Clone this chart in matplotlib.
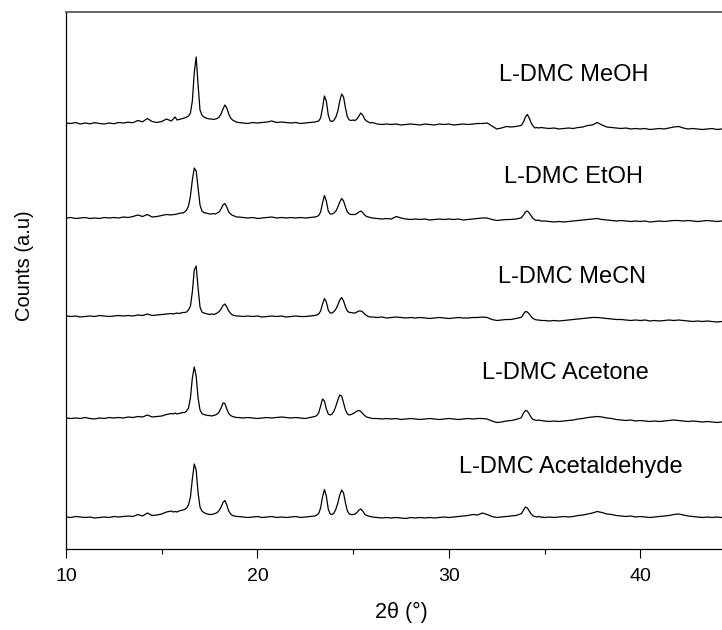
import numpy as np
import matplotlib
matplotlib.use('Agg')
import matplotlib.pyplot as plt

plt.rcParams['font.family'] = ['Liberation Sans', 'DejaVu Sans']

# 2-theta sampling (deg): coarse on the baseline, 0.1 steps across the peaks
two_theta = [
    10.0, 10.25, 10.5, 10.75, 11.0, 11.25, 11.5, 11.75, 12.0, 12.25, 12.5, 12.75,
    13.0, 13.25, 13.5, 13.75, 14.0, 14.25, 14.5, 14.75, 15.0, 15.25, 15.5,
    15.6, 15.7, 15.8, 15.9, 16.0, 16.1, 16.2, 16.3, 16.4, 16.5, 16.6, 16.7, 16.8,
    16.9, 17.0, 17.1, 17.2, 17.3, 17.4, 17.5, 17.6, 17.7, 17.8, 17.9, 18.0, 18.1,
    18.2, 18.3, 18.4, 18.5, 18.6, 18.7, 18.8, 18.9, 19.0,
    19.25, 19.5, 19.75, 20.0, 20.25, 20.5, 20.75, 21.0, 21.25, 21.5, 21.75, 22.0,
    22.25, 22.5, 22.75, 23.0,
    23.1, 23.2, 23.3, 23.4, 23.5, 23.6, 23.7, 23.8, 23.9, 24.0, 24.1, 24.2, 24.3,
    24.4, 24.5, 24.6, 24.7, 24.8, 24.9, 25.0, 25.1, 25.2, 25.3, 25.4, 25.5, 25.6,
    25.7, 25.8, 25.9, 26.0,
    26.25, 26.5, 26.75, 27.0, 27.25, 27.5, 27.75, 28.0, 28.25, 28.5, 28.75, 29.0,
    29.25, 29.5, 29.75, 30.0, 30.25, 30.5, 30.75, 31.0, 31.25, 31.5, 31.75, 32.0,
    32.25, 32.5, 32.75, 33.0, 33.25, 33.5, 33.75,
    33.8, 33.9, 34.0, 34.1, 34.2, 34.3, 34.4, 34.5, 34.6, 34.7, 34.8,
    35.0, 35.25, 35.5, 35.75, 36.0, 36.25, 36.5, 36.75, 37.0, 37.25, 37.5, 37.75,
    38.0, 38.25, 38.5, 38.75, 39.0, 39.25, 39.5, 39.75, 40.0, 40.25, 40.5, 40.75,
    41.0, 41.25, 41.5, 41.75, 42.0, 42.25, 42.5, 42.75, 43.0, 43.25, 43.5, 43.75,
    44.0, 44.25, 44.5, 44.75, 45.0,
]

# intensities (a.u.), relative to each pattern's left baseline
meoh = [
    0, -0.5, 0.5, -1, 0, -0.8, 0.3, -0.5, -1, 0, -0.7, 0.5,
    0, 0.8, 0.3, 2.5, 1.2, 4.5, 1.5, 0.5, 1.5, 4, 2,
    4, 6, 3, 3.5, 4, 4.5, 5, 6, 7, 10, 22, 50, 66,
    38, 13, 8, 6, 5, 4.5, 4, 4, 3.5, 4, 4.5, 6, 9,
    14, 18, 15, 9, 5, 3, 2, 1, 0.5,
    0, -0.5, 0.5, 0, 0.5, 1, 2, 0.5, 1, 0.5, 0, 0.5,
    -0.5, 0, 0.5, 1,
    1.5, 2, 5, 15, 27, 22, 8, 2, 1.5, 3, 6, 12, 22,
    29, 26, 15, 6, 3, 2.5, 3, 2.5, 4, 7, 10, 8, 4,
    2, 1, 0, 0.5,
    -1, -1.5, -1, -1.5, -1, -2, -1.5, -1, -1.5, -2, -1, -1.5,
    -2, -1, -1.5, -1, -2, -1.5, -1, -1.5, -1, -0.5, -0.5, 0,
    -3, -6, -5, -3.5, -4, -3.5, -2.5,
    -2, 1, 6, 8.5, 5, 0, -3, -5, -4.5, -5, -4.5,
    -5, -5.5, -5, -6, -5.5, -5, -5.5, -4.5, -4, -2.5, -2, 0.5,
    -2, -4, -4.5, -5, -5.5, -5, -6, -5.5, -6, -5.5, -6.5, -6,
    -5.5, -6, -5, -4, -3.5, -5, -6, -5.5, -6, -6.5, -6, -5.5,
    -6.5, -6, -6.5, -6, -6.5,
]
etoh = [
    0, 0.5, -0.5, 0, 0.5, -0.5, 0, -0.5, 0.5, 0, 0.5, 0,
    1, 0.5, 1.5, 3, 1.5, 3.5, 1, 1.5, 2.5, 3.5, 3,
    3.5, 3.5, 4, 4.5, 5, 5, 6, 8, 12, 22, 38, 50, 47,
    30, 13, 7, 5.5, 5, 4.5, 4, 4, 4.5, 4, 5, 6, 9,
    13, 14.5, 11, 6, 4, 2.5, 2, 1, 1,
    0.5, 0, 0.5, -0.5, 0, 0.5, 1, 0, 0.5, 0, 0.5, 0,
    0.5, 0, 0.5, 1,
    1.5, 2.5, 6, 15, 22.5, 17, 7, 4, 4, 5, 7, 11, 16,
    19.5, 17, 11, 6, 4, 3.5, 3.5, 3.5, 4.5, 6, 7, 5.5, 3,
    1.5, 1, 0.5, 0,
    -0.5, -1, -0.5, -1, 1.5, 0, -1, -1.5, -1, -1.5, -1, -2,
    -1.5, -1, -1.5, -1, -1.5, -1, -2, -1.5, -1, -0.5, 0, 0,
    -1.5, -2.5, -2, -1.5, -1.5, -1, 0,
    0.5, 3, 6, 7, 5, 2, -0.5, -2, -2.5, -2, -3,
    -3, -3.5, -4, -3.5, -4, -3.5, -3, -2.5, -2, -1.5, -1, -0.5,
    -1.5, -2, -2.5, -3, -2.5, -3, -3.5, -3, -3.5, -3, -4, -3.5,
    -3, -3.5, -3, -2.5, -2.5, -3, -2.5, -3, -3.5, -3, -2.5, -3,
    -3.5, -3, -3.5, -3, -3.5,
]
mecn = [
    0, -0.5, 0, -1, -0.5, 0, -0.5, 0.5, 0, -0.5, 0, 0.5,
    0, 0.5, 0, 1, 0.5, 2, 0.5, 1, 1.5, 2, 2.5,
    2, 2.5, 3, 2.5, 3, 3.5, 3.5, 4, 6, 10, 24, 46, 50,
    28, 9, 4, 3, 2.5, 2, 1.5, 2, 1.5, 2, 3, 4.5, 7,
    10.5, 12, 9, 5, 2.5, 1, 0.5, 0, 0,
    -0.5, 0, -0.5, 0, -1, -0.5, 0, -0.5, 0, -1, -0.5, 0,
    -0.5, -0.5, 0, 0.5,
    1, 2, 5, 12, 17.5, 14, 6, 3, 3, 4.5, 7, 11, 16,
    18.5, 15, 9, 5, 3.5, 3.5, 3, 3, 4, 5, 5, 4, 2,
    0.5, -0.5, -1, -1,
    -1.5, -1, -2, -1.5, -1, -1.5, -2, -1.5, -2, -1.5, -2, -2.5,
    -2, -1.5, -2, -2.5, -2, -1.5, -2, -2, -1.5, -1.5, -1, -1.5,
    -3.5, -4.5, -4, -3.5, -3.5, -2.5, -1.5,
    -1, 2, 4.5, 4, 2, -0.5, -2.5, -3.5, -4, -4, -4.5,
    -4.5, -5, -4.5, -5, -4.5, -4, -3.5, -3, -2.5, -2, -1.5, -1.5,
    -2, -2.5, -3, -3.5, -3.5, -4, -4.5, -4, -4.5, -4, -5, -4.5,
    -5, -4.5, -4, -4.5, -4, -4.5, -5, -5.5, -5, -5.5, -5, -5.5,
    -6, -5.5, -6, -5.5, -6,
]
acetone = [
    0, -0.5, 0, -0.5, 0.5, -0.5, -1, 0, -0.5, 0.5, 0, 0.5,
    0, 1, 0.5, 1.5, 1, 3, 1, 1.5, 2, 3.5, 4.5,
    4, 5, 4, 4.5, 5, 5.5, 5.5, 7, 10, 20, 40, 51, 42,
    20, 8, 4.5, 3.5, 3, 2.5, 2.5, 2, 2.5, 3, 4, 6, 10,
    15, 14.5, 9, 4.5, 2.5, 1.5, 1, 0.5, 0.5,
    0, 0.5, 0, -0.5, 0, 0.5, 0, 0.5, 1, 0.5, 0, 0.5,
    0, -0.5, 0.5, 1.5,
    2.5, 5, 12, 19, 17, 9, 4, 3, 4, 7, 12, 18, 23,
    22, 15, 8, 4, 3, 3.5, 4.5, 5.5, 7, 7.5, 6.5, 4.5, 2.5,
    1, 0.5, 0, -0.5,
    -0.5, -1, -0.5, -1, -0.5, -1.5, -1, -0.5, -1, -1.5, -1, -0.5,
    -1, -1.5, -1, -0.5, -1, -1.5, -1, -0.5, -1, -0.5, -0.5, -1,
    -3, -4.5, -4, -3, -2.5, -1.5, 0,
    1, 5, 7.5, 7, 4, 0.5, -1.5, -2, -2.5, -2, -2.5,
    -3, -3.5, -3, -3.5, -3, -2.5, -2, -1, -0.5, 0.5, 1, 1.5,
    1, 0, -0.5, -1.5, -2, -2.5, -2, -3, -2.5, -3, -3.5, -3,
    -3.5, -3, -2.5, -2, -2.5, -3, -3.5, -3, -3.5, -4, -3.5, -4,
    -4.5, -4, -4.5, -4, -4.5,
]
acetaldehyde = [
    0, -0.5, 0.5, 0, -0.5, 0, -1, -0.5, 0, -0.5, 0.5, 0,
    0.5, 1, 0.5, 2.5, 1, 4, 1.5, 2, 3, 5, 6,
    5, 5.5, 5, 6, 6.5, 7, 7.5, 9, 12, 20, 38, 53, 47,
    24, 10, 6, 4.5, 3.5, 3, 2.5, 2.5, 3, 3.5, 4.5, 6.5, 10,
    14.5, 16.5, 12, 6, 3, 1.5, 1, 0.5, 0.5,
    0, -0.5, 0, 0.5, -0.5, 0, 0.5, -0.5, 0, -0.5, 0, 0.5,
    -0.5, 0, 0.5, 1,
    2, 3.5, 9, 20, 27.5, 21, 8, 3, 2.5, 4, 8, 14, 22,
    27, 24, 14, 6, 3, 2.5, 2.5, 3, 4.5, 7, 8, 6, 3,
    1.5, 1, 0.5, 0,
    -0.5, -1, -0.5, -1, -0.5, -1, -1.5, -0.5, -1, -0.5, -1, -0.5,
    -1, -0.5, 0, -0.5, 0, 0.5, 1, 1.5, 2.5, 2, 4, 2.5,
    0.5, -0.5, 0, 0.5, 1, 1.5, 3,
    3.5, 7, 10, 9, 6, 3, 1, 0.5, 0, 0.5, 0,
    -0.5, 0, -0.5, 0, 0.5, 0, 0.5, 1.5, 2, 3, 4, 5.5,
    4.5, 3, 2.5, 1.5, 1, 0.5, 1, 0, 0.5, 0, -0.5, 0,
    0.5, 1, 1.5, 2.5, 3, 2, 1, 0.5, 0, -0.5, 0, -0.5,
    0, -0.5, -1, -0.5, -1,
]

labels = ['L-DMC MeOH', 'L-DMC EtOH', 'L-DMC MeCN', 'L-DMC Acetone', 'L-DMC Acetaldehyde']
patterns = [meoh, etoh, mecn, acetone, acetaldehyde]

# stacking layout (same units as the intensities)
offsets = [426, 331, 233, 131, 32]
label_x = [36.55, 36.5, 36.45, 36.1, 36.35]
label_y = [474, 372, 272, 176, 82]

fig = plt.figure(figsize=(7.22, 6.3), dpi=100)
ax = fig.add_axes([66 / 722, 81 / 630, 670 / 722, 537 / 630])

x = np.array(two_theta)
for name, ys, off, lx, ly in zip(labels, patterns, offsets, label_x, label_y):
    ax.plot(x, np.array(ys) + off, color='black', lw=0.9)
    ax.text(lx, ly, name, ha='center', va='center', fontsize=17)

ax.set_xlim(10, 45)
ax.set_ylim(0, 537)
ax.set_xticks([10, 20, 30, 40])
ax.set_xticks([15, 25, 35], minor=True)
ax.set_yticks([])
ax.tick_params(axis='x', which='major', direction='out', length=6.5, width=0.8,
               labelsize=14, pad=7)
ax.tick_params(axis='x', which='minor', direction='out', length=3.6, width=0.8)

ax.spines['top'].set_color('#666666')
ax.spines['top'].set_linewidth(1.4)
ax.spines['left'].set_linewidth(0.9)
ax.spines['bottom'].set_linewidth(0.9)

ax.set_xlabel('2θ (°)', fontsize=15.5, labelpad=12)
fig.text(24 / 722, 1 - 266 / 630, 'Counts (a.u)', rotation=90,
         ha='center', va='center', fontsize=14.5)

fig.savefig('out.png', dpi=100)
